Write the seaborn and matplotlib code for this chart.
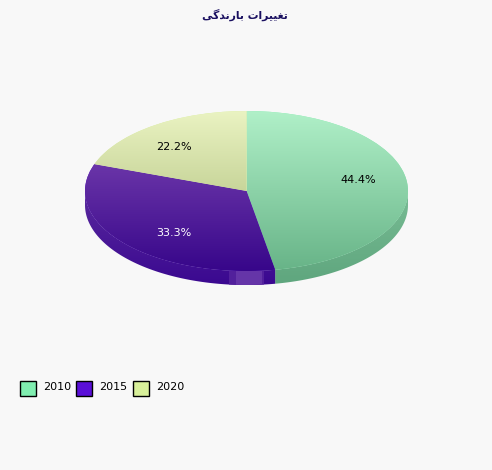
import numpy as np
import matplotlib
matplotlib.use('Agg')
import matplotlib.pyplot as plt
import seaborn as sns
from matplotlib.patches import Ellipse, Patch, Polygon, Rectangle

# presentation forms, matplotlib does no arabic shaping itself
title_logical = '\uFE97\uFED0\uFBFF\uFBFF\uFEAE\uFE8D\uFE95 \uFE91\uFE8E\uFEAD\uFEE7\uFEAA\uFB94\uFBFD'
years = ['2010', '2015', '2020']
shares = [44.4, 33.3, 22.2]
legend_colors = ['#80EEB0', '#5A0FD8', '#D8F09A']
top_colors = ['#B0F0C8', '#6A35A8', '#EAF3C2']
bottom_colors = ['#68B488', '#37068A', '#C8D59A']
side_top_colors = ['#78BC94', '#5A2A9E', '#C8D59A']
side_bottom_colors = ['#5FA67E', '#3A0890', '#C8D59A']
pct_colors = ['black', 'white', 'black']

BG = '#F8F8F8'
W, H = 492, 470
CX, CY = 246.5, 470 - 191
RX, RY = 161.5, 80
DEPTH = 14

sns.set_theme(style='white', rc={'figure.facecolor': BG, 'axes.facecolor': BG})

fig = plt.figure(figsize=(W / 100, H / 100), dpi=100)
ax = fig.add_axes([0, 0, 1, 1])


def rim(t1, t2):
    # points where the rays of the true wedge angles meet the flattened rim
    a = np.radians(np.linspace(t1, t2, 200))
    r = 1 / np.sqrt((np.cos(a) / RX) ** 2 + (np.sin(a) / RY) ** 2)
    return a, CX + r * np.cos(a), CY + r * np.sin(a)


def gradient_fill(pts, top, bottom, zorder):
    cmap = sns.blend_palette([top, bottom], n_colors=256, as_cmap=True)
    im = ax.imshow(np.linspace(0, 1, 256)[:, None], cmap=cmap, origin='upper', aspect='auto',
                   extent=(pts[:, 0].min(), pts[:, 0].max(), pts[:, 1].min(), pts[:, 1].max()),
                   zorder=zorder)
    im.set_clip_path(Polygon(pts, transform=ax.transData))


wedges, _, pct_texts = ax.pie(shares, colors=legend_colors, startangle=90, counterclock=False,
                              center=(CX, CY), radius=400, autopct='%1.1f%%',
                              wedgeprops={'linewidth': 0})

disc = Ellipse((CX, CY), 2 * RX, 2 * RY, transform=ax.transData)

for i, w in enumerate(wedges):
    w.set_clip_path(disc)
    w.set_clip_on(True)
    a, xs, ys = rim(w.theta1, w.theta2)

    # side wall
    low = np.sin(a) < 0
    if low.any():
        wall = np.column_stack([np.r_[xs[low], xs[low][::-1]],
                                np.r_[ys[low], ys[low][::-1] - DEPTH]])
        gradient_fill(wall, side_top_colors[i], side_bottom_colors[i], 1)

    # top face
    gradient_fill(np.column_stack([np.r_[CX, xs], np.r_[CY, ys]]),
                  top_colors[i], bottom_colors[i], 2)

    # value labels sit at 70% of the rim, on the mid angle
    mid = np.radians((w.theta1 + w.theta2) / 2)
    pct_texts[i].set(x=CX + 0.7 * RX * np.cos(mid), y=CY + 0.7 * RY * np.sin(mid) + 1,
                     color=pct_colors[i], fontsize=8, family='DejaVu Sans', zorder=5,
                     ha='center', va='center')

# lighter block on the front of the rim
a, xs, ys = rim(180, 360)
front = Polygon(np.column_stack([np.r_[xs, xs[::-1]], np.r_[ys, ys[::-1] - DEPTH]]),
                transform=ax.transData)
for box in [Rectangle((229, 470 - 285), 35, 14, color='#52209C', lw=0, zorder=3),
            Rectangle((236, 470 - 285), 26, 14, color='#6535A8', lw=0, zorder=3)]:
    ax.add_patch(box)
    box.set_clip_path(front)

ax.set_xlim(0, W)
ax.set_ylim(0, H)
ax.set_aspect('auto')
ax.axis('off')

ax.text(245, 470 - 15, title_logical[::-1], ha='center', va='center', fontsize=7.8,
        fontweight='bold', color='#1A1060', family='DejaVu Sans')

handles = [Patch(facecolor=c, edgecolor='black', linewidth=1) for c in legend_colors]
leg = ax.legend(handles, years, ncol=3, frameon=False, loc='lower left',
                bbox_to_anchor=(20 / W, (470 - 396) / H), handlelength=1.45, handleheight=1.75,
                handletextpad=0.62, columnspacing=0.47, borderpad=0, borderaxespad=0,
                labelcolor='black', prop={'family': 'DejaVu Sans', 'size': 8})
for t in leg.get_texts():
    t.set_y(1.5)

fig.savefig('out.png', dpi=100, facecolor=BG)
